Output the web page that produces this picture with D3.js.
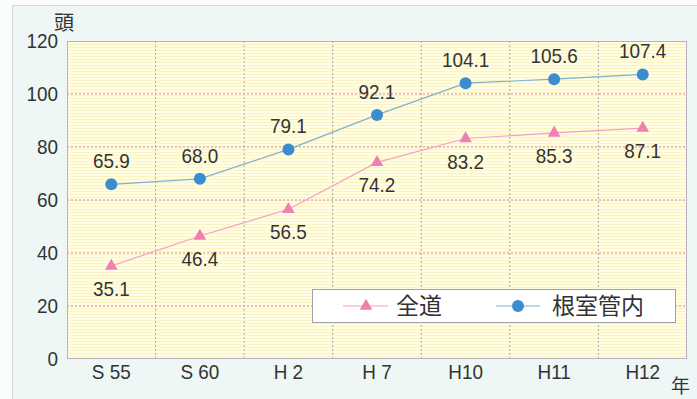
<!DOCTYPE html>
<html>
<head>
<meta charset="utf-8">
<script src="https://cdn.jsdelivr.net/npm/d3@7"></script>
<style>
  html, body { margin: 0; padding: 0; background: #fbfdfd; }
  svg { display: block; }
</style>
</head>
<body>
<svg id="chart" width="697" height="399"></svg>
<script>
// Head counts per year (頭)
const categories = ["S 55", "S 60", "H 2", "H 7", "H10", "H11", "H12"];
const zendo = [35.1, 46.4, 56.5, 74.2, 83.2, 85.3, 87.1];      // 全道
const nemuro = [65.9, 68.0, 79.1, 92.1, 104.1, 105.6, 107.4];  // 根室管内
const yTicks = [0, 20, 40, 60, 80, 100, 120];
const seriesNames = ["全道", "根室管内"];

const svg = d3.select("#chart");
const W = 697, H = 399;
const m = { left: 67, right: 10, top: 41, bottom: 40 };
const pw = W - m.left - m.right, ph = H - m.top - m.bottom;

const numFont = "'Liberation Sans', Arial, sans-serif";
const cjkFont = "'Noto Sans CJK JP', sans-serif";

// outer panel
svg.append("rect").attr("x", 12.5).attr("y", 5.5).attr("width", W).attr("height", H)
  .attr("fill", "#eef7f6").attr("stroke", "#cfd6d8");

// striped pale-yellow plot background
const defs = svg.append("defs");
const pat = defs.append("pattern").attr("id", "stripes").attr("patternUnits", "userSpaceOnUse")
  .attr("width", 8).attr("height", 3);
pat.append("rect").attr("width", 8).attr("height", 3).attr("fill", "#fffde4");
pat.append("rect").attr("y", 2).attr("width", 8).attr("height", 1).attr("fill", "#fbf3c0");

const x = d3.scaleBand().domain(categories).range([m.left, m.left + pw]);
const y = d3.scaleLinear().domain([0, 120]).range([m.top + ph, m.top]);

svg.append("rect").attr("x", m.left).attr("y", m.top).attr("width", pw).attr("height", ph)
  .attr("fill", "url(#stripes)");

// horizontal dotted gridlines
svg.append("g").selectAll("line").data(yTicks.filter(v => v > 0 && v < 120)).join("line")
  .attr("x1", m.left).attr("x2", m.left + pw)
  .attr("y1", d => y(d)).attr("y2", d => y(d))
  .attr("stroke", "#d9899a").attr("stroke-width", 1).attr("stroke-dasharray", "2,2");

// vertical dotted gridlines at category boundaries
svg.append("g").selectAll("line").data(categories.slice(1)).join("line")
  .attr("x1", d => x(d)).attr("x2", d => x(d))
  .attr("y1", m.top).attr("y2", m.top + ph)
  .attr("stroke", "#a8a8a8").attr("stroke-width", 1).attr("stroke-dasharray", "2,2");

// plot frame
svg.append("rect").attr("x", m.left + 0.5).attr("y", m.top + 0.5).attr("width", pw - 1).attr("height", ph - 1)
  .attr("fill", "none").attr("stroke", "#b8b0c0").attr("stroke-width", 1);

// y axis labels
const yAxis = d3.axisLeft(y).tickValues(yTicks).tickSize(0).tickPadding(9);
const gy = svg.append("g").attr("transform", `translate(${m.left},0)`).call(yAxis);
gy.select(".domain").remove();
gy.selectAll("text").classed("num", true).attr("font-family", numFont).attr("font-size", 21).attr("fill", "#333");

// x axis labels
const xAxis = d3.axisBottom(x).tickSize(0).tickPadding(5);
const gx = svg.append("g").attr("transform", `translate(0,${m.top + ph})`).call(xAxis);
gx.select(".domain").remove();
gx.selectAll("text").classed("num", true).attr("font-family", numFont).attr("font-size", 21).attr("fill", "#333");

// unit labels
svg.append("text").attr("x", 54).attr("y", 30).text("頭")
  .attr("font-family", cjkFont).attr("font-size", 20).attr("fill", "#333");
svg.append("text").attr("x", 671).attr("y", 393).text("年")
  .attr("font-family", cjkFont).attr("font-size", 19).attr("fill", "#333");

const cx = d => x(d) + x.bandwidth() / 2;
const line = d3.line().x((d, i) => cx(categories[i])).y(d => y(d));

const pinkLine = "#f3a0c4", pinkMark = "#f080b0";
const blueLine = "#80b0cc", blueMark = "#3a8ed0";
const tri = d3.symbol().type(d3.symbolTriangle).size(70);

// 全道 series
svg.append("path").datum(zendo).attr("d", line).attr("fill", "none")
  .attr("stroke", pinkLine).attr("stroke-width", 1.2);
svg.append("g").selectAll("path").data(zendo).join("path")
  .attr("d", tri).attr("fill", pinkMark)
  .attr("transform", (d, i) => `translate(${cx(categories[i])},${y(d)})`);

// 根室管内 series
svg.append("path").datum(nemuro).attr("d", line).attr("fill", "none")
  .attr("stroke", blueLine).attr("stroke-width", 1.2);
svg.append("g").selectAll("circle").data(nemuro).join("circle")
  .attr("cx", (d, i) => cx(categories[i])).attr("cy", d => y(d)).attr("r", 6)
  .attr("fill", blueMark);

// value labels
svg.append("g").selectAll("text").data(zendo).join("text")
  .classed("num", true)
  .attr("x", (d, i) => cx(categories[i])).attr("y", d => y(d) + 30)
  .attr("text-anchor", "middle").attr("font-family", numFont).attr("font-size", 21)
  .attr("fill", "#333").text(d => d.toFixed(1));
svg.append("g").selectAll("text").data(nemuro).join("text")
  .classed("num", true)
  .attr("x", (d, i) => cx(categories[i])).attr("y", d => y(d) - 16)
  .attr("text-anchor", "middle").attr("font-family", numFont).attr("font-size", 21)
  .attr("fill", "#333").text(d => d.toFixed(1));

// narrow the numeric lettering slightly
svg.selectAll("text.num").each(function () {
  const len = this.getComputedTextLength();
  d3.select(this).attr("textLength", len * 0.9).attr("lengthAdjust", "spacingAndGlyphs");
});

// legend
const lg = svg.append("g");
lg.append("rect").attr("x", 312.5).attr("y", 289.5).attr("width", 363).attr("height", 33)
  .attr("fill", "#ffffff").attr("stroke", "#a0a0a8");
const ly = 306;
lg.append("line").attr("x1", 343).attr("x2", 388).attr("y1", ly).attr("y2", ly)
  .attr("stroke", pinkLine).attr("stroke-width", 1.2);
lg.append("path").attr("d", tri).attr("fill", pinkMark).attr("transform", `translate(366,${ly})`);
lg.append("text").attr("x", 396).attr("y", ly + 8).text(seriesNames[0])
  .attr("font-family", cjkFont).attr("font-size", 23).attr("fill", "#333");
lg.append("line").attr("x1", 496).attr("x2", 540).attr("y1", ly).attr("y2", ly)
  .attr("stroke", blueLine).attr("stroke-width", 1.2);
lg.append("circle").attr("cx", 518).attr("cy", ly).attr("r", 6).attr("fill", blueMark);
lg.append("text").attr("x", 552).attr("y", ly + 8).text(seriesNames[1])
  .attr("font-family", cjkFont).attr("font-size", 23).attr("fill", "#333");
</script>
</body>
</html>
